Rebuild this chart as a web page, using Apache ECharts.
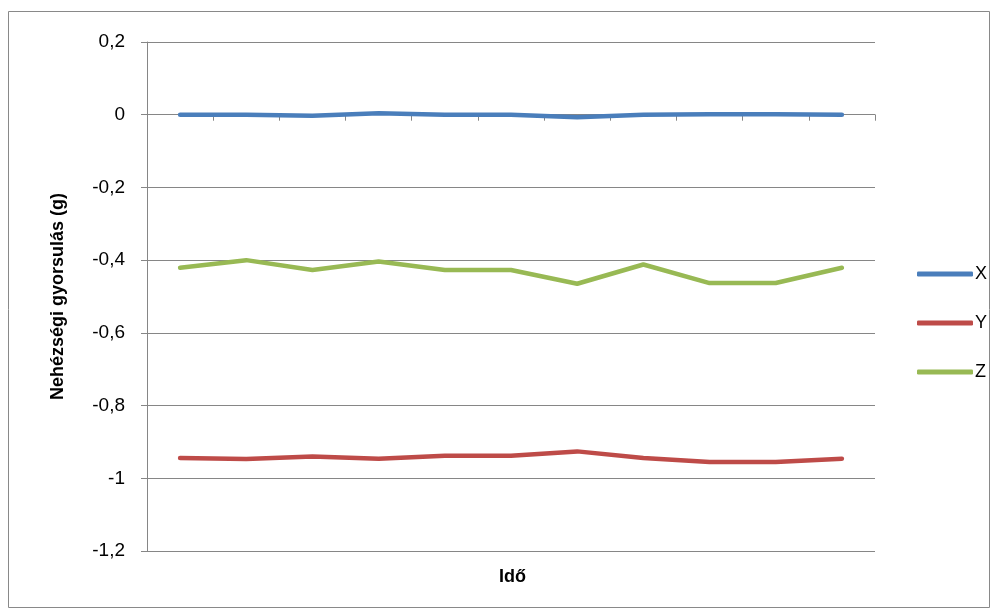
<!DOCTYPE html>
<html><head><meta charset="utf-8">
<script src="https://cdn.jsdelivr.net/npm/echarts@6/dist/echarts.min.js"></script>
<style>html,body{margin:0;padding:0;background:#fff}#c{width:998px;height:614px}</style>
</head><body><div id="c"></div>
<script>
const categories = ['1','2','3','4','5','6','7','8','9','10','11'];
const seriesNames = ['X','Y','Z'];
const xValues = [0.000, 0.000, -0.003, 0.004, 0.000, 0.000, -0.007, 0.000, 0.001, 0.001, 0.000];
const yValues = [-0.944, -0.947, -0.940, -0.946, -0.938, -0.938, -0.926, -0.944, -0.955, -0.955, -0.946];
const zValues = [-0.421, -0.400, -0.427, -0.404, -0.427, -0.427, -0.465, -0.412, -0.463, -0.463, -0.421];
const yTicks = {min: -1.2, max: 0.2, interval: 0.2};
const colors = ['#4A7EBB', '#BE4B48', '#98B954'];

const chart = echarts.init(document.getElementById('c'), null, {renderer: 'canvas'});
const font = 'Liberation Sans';
const mk = (name, data, color) => ({
  name, type: 'line', data, symbol: 'none', smooth: false,
  lineStyle: {color, width: 4.5, cap: 'round', join: 'round'},
  itemStyle: {color}, animation: false
});
chart.setOption({
  animation: false,
  color: colors,
  graphic: [{type: 'rect', shape: {x: 8.5, y: 11.5, width: 981, height: 596},
    style: {fill: 'none', stroke: '#898989', lineWidth: 1}, silent: true, z: -1}],
  title: {text: 'Idő', left: 494, top: 563,
    textStyle: {fontFamily: font, fontSize: 18, fontWeight: 'bold', color: '#000'}},
  grid: {left: 147, right: 123, top: 42, bottom: 63, containLabel: false, outerBoundsMode: 'none'},
  legend: {
    orient: 'vertical', left: 912, top: 259, itemWidth: 56, itemHeight: 5, itemGap: 29,
    icon: 'roundRect',
    textStyle: {fontFamily: font, fontSize: 18, color: '#000', lineHeight: 20, padding: [0, 0, 0, -3]},
    data: seriesNames
  },
  xAxis: {
    type: 'category', data: categories, boundaryGap: true,
    axisLine: {onZero: true, lineStyle: {color: '#868686', width: 1}},
    axisTick: {show: true, inside: false, length: 6, alignWithLabel: false, lineStyle: {color: '#868686'}},
    axisLabel: {show: false}, splitLine: {show: false}
  },
  yAxis: {
    type: 'value', min: yTicks.min, max: yTicks.max, interval: yTicks.interval,
    name: 'Nehézségi gyorsulás (g)', nameLocation: 'middle', nameGap: 80, nameRotate: 90,
    nameTextStyle: {fontFamily: font, fontSize: 18, fontWeight: 'bold', color: '#000'},
    axisLine: {show: true, lineStyle: {color: '#868686', width: 1}},
    axisTick: {show: true, length: 6, lineStyle: {color: '#868686'}},
    axisLabel: {fontFamily: font, fontSize: 19, color: '#000', margin: 22,
      formatter: v => String(Math.round(v*10)/10).replace('.', ',')},
    splitLine: {show: true, lineStyle: {color: '#868686', width: 1}}
  },
  series: [mk(seriesNames[0], xValues, colors[0]), mk(seriesNames[1], yValues, colors[1]), mk(seriesNames[2], zValues, colors[2])]
});
</script></body></html>
